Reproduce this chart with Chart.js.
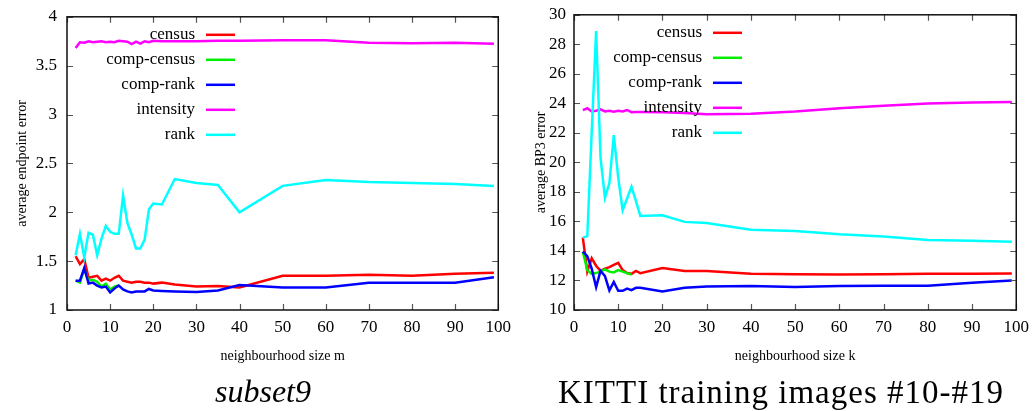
<!DOCTYPE html>
<html>
<head>
<meta charset="UTF-8">
<title>Neighbourhood size</title>
<script src="https://cdn.jsdelivr.net/npm/chart.js"></script>
<style>
  body { margin: 0; background: #fff; }
  .wrap { display: flex; width: 1036px; height: 411px; }
  canvas { display: block; }
</style>
</head>
<body>
<div class="wrap">
  <canvas id="subset9" width="518" height="411"></canvas>
  <canvas id="kitti" width="518" height="411"></canvas>
</div>
<script>
// ---- subset9 : average endpoint error vs neighbourhood size m ----
const mSizes = [2,3,4,5,6,7,8,9,10,11,12,13,14,15,16,17,18,19,20,22,25,30,35,40,50,60,70,80,90,99];
const mCompSizes = [2,3,4,5,6,7,8,9,10,11,12];
const epeCensus = [1.55,1.47,1.52,1.33,1.34,1.35,1.30,1.32,1.30,1.33,1.35,1.30,1.29,1.28,1.29,1.29,1.28,1.28,1.27,1.28,1.26,1.24,1.245,1.23,1.35,1.35,1.36,1.35,1.37,1.38];
const epeCompCensus = [1.30,1.28,1.42,1.30,1.31,1.29,1.24,1.27,1.21,1.24,1.25];
const epeCompRank = [1.30,1.30,1.43,1.27,1.28,1.25,1.23,1.24,1.18,1.22,1.25,1.21,1.19,1.18,1.19,1.19,1.19,1.215,1.20,1.195,1.19,1.185,1.20,1.255,1.23,1.23,1.28,1.28,1.28,1.335];
const epeIntensity = [3.68,3.74,3.735,3.75,3.74,3.745,3.75,3.74,3.745,3.74,3.755,3.75,3.745,3.72,3.745,3.725,3.75,3.74,3.755,3.75,3.75,3.75,3.755,3.755,3.76,3.76,3.735,3.73,3.735,3.725];
const epeRank = [1.56,1.78,1.54,1.79,1.77,1.56,1.73,1.86,1.80,1.78,1.78,2.17,1.89,1.77,1.63,1.63,1.72,2.03,2.09,2.08,2.34,2.30,2.28,2.00,2.27,2.33,2.31,2.30,2.29,2.27];

// ---- KITTI #10-#19 : average BP3 error vs neighbourhood size k ----
const kSizes = [2,3,4,5,6,7,8,9,10,11,12,13,14,15,20,25,30,40,50,60,70,80,90,99];
const kCompSizes = [2,3,4,5,6,7,8,9,10,11,12,13];
const bp3Census = [14.9,12.6,13.5,13.0,12.65,12.8,12.9,13.05,13.2,12.7,12.5,12.45,12.65,12.5,12.85,12.65,12.65,12.45,12.42,12.4,12.42,12.45,12.45,12.48];
const bp3CompCensus = [13.95,12.7,12.45,12.5,12.6,12.75,12.6,12.55,12.7,12.6,12.5,12.4];
const bp3CompRank = [13.95,13.65,12.8,11.55,12.65,12.3,11.33,11.9,11.3,11.3,11.45,11.35,11.5,11.5,11.25,11.5,11.6,11.62,11.56,11.62,11.65,11.65,11.85,12.0];
const bp3Intensity = [23.54,23.67,23.45,23.5,23.6,23.45,23.5,23.43,23.5,23.45,23.55,23.4,23.42,23.42,23.4,23.35,23.27,23.3,23.45,23.67,23.83,23.99,24.05,24.1];
const bp3Rank = [14.9,15.0,22.0,28.9,20.3,17.6,18.6,21.85,18.97,16.76,17.55,18.34,17.4,16.37,16.42,15.97,15.9,15.44,15.35,15.13,14.98,14.75,14.7,14.63];

const seriesNames = ['census', 'comp-census', 'comp-rank', 'intensity', 'rank'];
const seriesColors = ['#ff0000', '#00ee00', '#0000ff', '#ff00ff', '#00ffff'];

const serif = "'Liberation Serif', 'Times New Roman', serif";

function pts(xs, ys) {
  return ys.map((y, i) => ({ x: xs[i], y: y }));
}

// gnuplot-like frame with inward ticks on all four sides, the key and the caption
const framePlugin = {
  id: 'frame',
  afterDatasetsDraw(chart, args, opts) {
    const { ctx, chartArea: a, scales } = chart;
    ctx.save();
    ctx.strokeStyle = '#555';
    ctx.lineWidth = 1.2;
    ctx.beginPath();
    scales.x.ticks.forEach(t => {
      const px = Math.round(scales.x.getPixelForValue(t.value)) + 0.5;
      ctx.moveTo(px, a.bottom); ctx.lineTo(px, a.bottom - 6);
      ctx.moveTo(px, a.top); ctx.lineTo(px, a.top + 6);
    });
    scales.y.ticks.forEach(t => {
      const py = Math.round(scales.y.getPixelForValue(t.value)) + 0.5;
      ctx.moveTo(a.left, py); ctx.lineTo(a.left + 6, py);
      ctx.moveTo(a.right, py); ctx.lineTo(a.right - 6, py);
    });
    ctx.stroke();
    ctx.strokeStyle = '#111';
    ctx.lineWidth = 1.5;
    ctx.strokeRect(a.left, a.top, a.right - a.left, a.bottom - a.top);

    // key: label right-aligned, line sample to its right
    ctx.font = '17px ' + serif;
    ctx.textAlign = 'right';
    ctx.textBaseline = 'middle';
    chart.data.datasets.forEach((ds, i) => {
      const y = a.top + 18 + i * 25;
      const tx = a.left + 128;
      ctx.fillStyle = '#000';
      ctx.fillText(ds.label, tx, y);
      ctx.strokeStyle = ds.borderColor;
      ctx.lineWidth = 2.5;
      ctx.beginPath();
      ctx.moveTo(tx + 11, y);
      ctx.lineTo(tx + 40, y);
      ctx.stroke();
    });

    // caption under the plot
    ctx.font = opts.captionFont;
    ctx.letterSpacing = opts.captionSpacing;
    ctx.textAlign = 'center';
    ctx.fillStyle = '#000';
    ctx.fillText(opts.caption, 263, 394);
    ctx.restore();
  }
};

function makeChart(id, cfg) {
  const datasets = cfg.series.map((data, i) => ({
    label: seriesNames[i],
    data: data,
    borderColor: seriesColors[i],
    backgroundColor: seriesColors[i],
    borderWidth: 2.5,
    pointRadius: 0,
    tension: 0,
    fill: false,
    order: 4 - i
  }));
  return new Chart(document.getElementById(id), {
    type: 'line',
    data: { datasets: datasets },
    plugins: [framePlugin],
    options: {
      responsive: false,
      animation: false,
      layout: { padding: { left: 0, right: cfg.padRight, top: 12, bottom: 41 } },
      plugins: {
        legend: { display: false },
        tooltip: { enabled: false },
        frame: {
          caption: cfg.caption,
          captionFont: cfg.captionFont,
          captionSpacing: cfg.captionSpacing
        }
      },
      scales: {
        x: {
          type: 'linear',
          min: 0,
          max: 100,
          grid: { display: false, drawTicks: false },
          border: { display: false },
          ticks: { stepSize: 10, padding: 7, color: '#000', font: { family: serif, size: 17 } },
          title: {
            display: true,
            text: cfg.xTitle,
            color: '#000',
            font: { family: serif, size: 14 },
            padding: { top: 0, bottom: 5 }
          },
          afterFit(scale) { scale.height = 60; }
        },
        y: {
          min: cfg.yMin,
          max: cfg.yMax,
          grid: { display: false, drawTicks: false },
          border: { display: false },
          ticks: {
            stepSize: cfg.yStep,
            padding: cfg.yPad,
            color: '#000',
            font: { family: serif, size: 17, lineHeight: 0.8 },
            callback: v => String(Number(v.toFixed(2)))
          },
          title: {
            display: true,
            text: cfg.yTitle,
            color: '#000',
            font: { family: serif, size: 14 },
            padding: { top: cfg.yTitlePad, bottom: 0 }
          },
          afterFit(scale) { scale.width = cfg.yWidth; }
        }
      }
    }
  });
}

makeChart('subset9', {
  series: [pts(mSizes, epeCensus), pts(mCompSizes, epeCompCensus), pts(mSizes, epeCompRank), pts(mSizes, epeIntensity), pts(mSizes, epeRank)],
  yMin: 1, yMax: 4, yStep: 0.5,
  yTitle: 'average endpoint error',
  xTitle: 'neighbourhood size m',
  caption: 'subset9',
  captionFont: 'italic 32px ' + serif,
  captionSpacing: '0px',
  yWidth: 67, yPad: 10, yTitlePad: 13.6, padRight: 18
});

makeChart('kitti', {
  series: [pts(kSizes, bp3Census), pts(kCompSizes, bp3CompCensus), pts(kSizes, bp3CompRank), pts(kSizes, bp3Intensity), pts(kSizes, bp3Rank)],
  yMin: 10, yMax: 30, yStep: 2,
  yTitle: 'average BP3 error',
  xTitle: 'neighbourhood size k',
  caption: 'KITTI training images #10-#19',
  captionFont: '33px ' + serif,
  captionSpacing: '1px',
  yWidth: 56, yPad: 8, yTitlePad: 14.6, padRight: 17
});
</script>
</body>
</html>
